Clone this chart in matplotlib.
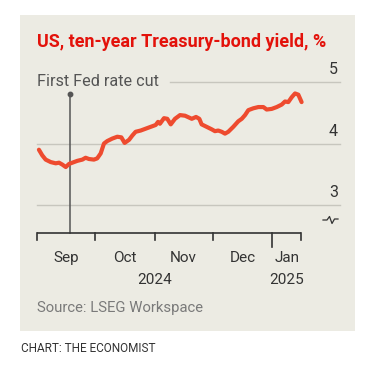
import matplotlib
matplotlib.use("Agg")
import matplotlib.pyplot as plt
import matplotlib.dates as mdates
import matplotlib.transforms as mtransforms
from matplotlib.lines import Line2D
import datetime as dt

plt.rcParams['font.family'] = ['Roboto', 'DejaVu Sans']

# ---- data ----
start = dt.date(2024, 9, 1)
day_offsets = [1.0, 2.7, 4.5, 7.1, 9.7, 11.4, 13.1, 14.9, 16.6, 18.3, 20.9,
               23.5, 25.2, 26.9, 29.5, 31.2, 33.0, 34.7, 36.4, 39.0, 41.6,
               43.7, 45.4, 47.7, 49.4, 51.1, 53.7, 56.3, 58.9, 61.5, 62.7,
               63.7, 65.8, 67.5, 69.3, 71.5, 74.1, 76.7, 80.2, 82.4, 84.1,
               85.3, 87.9, 90.5, 92.2, 93.9, 95.7, 97.4, 99.1, 101.7, 104.3,
               106.1, 107.8, 109.5, 112.1, 114.7, 117.3, 119.0, 121.6, 124.2,
               126.8, 128.5, 130.2, 132.0, 133.7, 135.4, 137.1]
yields = [3.90, 3.81, 3.74, 3.70, 3.68, 3.69, 3.66, 3.62, 3.67, 3.69, 3.72,
          3.74, 3.77, 3.75, 3.74, 3.76, 3.84, 4.00, 4.04, 4.08, 4.11,
          4.10, 4.01, 4.06, 4.13, 4.19, 4.21, 4.24, 4.27, 4.30, 4.35,
          4.32, 4.41, 4.40, 4.31, 4.40, 4.46, 4.45, 4.40, 4.43, 4.40,
          4.31, 4.27, 4.23, 4.20, 4.21, 4.19, 4.16, 4.19, 4.27, 4.36,
          4.40, 4.46, 4.54, 4.57, 4.59, 4.59, 4.55, 4.56, 4.59,
          4.63, 4.68, 4.67, 4.75, 4.81, 4.79, 4.67]
dates = [mdates.date2num(start) + d for d in day_offsets]

month_starts = [dt.date(2024, 9, 1), dt.date(2024, 10, 1), dt.date(2024, 11, 1),
                dt.date(2024, 12, 1), dt.date(2025, 1, 1)]
month_labels = ["Sep", "Oct", "Nov", "Dec", "Jan"]
axis_end = dt.date(2025, 1, 16)
year_labels = ["2024", "2025"]
y_ticks = [3, 4, 5]
fed_cut_date = dt.date(2024, 9, 18)
fed_cut_label = "First Fed rate cut"
title = "US, ten-year Treasury-bond yield, %"
source = "Source: LSEG Workspace"
credit = "CHART: THE ECONOMIST"

# ---- styling ----
W, H = 380, 365
BG = "#ecebe3"
LINE = "#ee4b2f"
RED = "#e3120b"
GRID = "#c7c6be"
DARK = "#333333"

fig = plt.figure(figsize=(W / 100, H / 100), dpi=100)
fig.patch.set_facecolor("white")

def fx(px):
    return px / W

def fy(py):
    return 1 - py / H

# panel background
panel = plt.Rectangle((fx(20), fy(331)), fx(355) - fx(20), fy(15) - fy(331),
                      transform=fig.transFigure, facecolor=BG, edgecolor="none",
                      zorder=-5)
fig.patches.append(panel)

ax = fig.add_axes([fx(37), fy(233), fx(340) - fx(37), fy(81.7) - fy(233)])
ax.set_zorder(2)
ax.set_facecolor("none")
ax.patch.set_alpha(0)
for s in ax.spines.values():
    s.set_visible(False)

x0 = mdates.date2num(start)
x_right = x0 + (340 - 37) / 1.93
ymin = 2.553
ax.set_xlim(x0, x_right)
ax.set_ylim(ymin, 5.0)
ax.set_xticks([])
ax.set_yticks([])

# gridlines
frac5 = (170 - 37) / (340 - 37)
for v in y_ticks:
    xmin = frac5 if v == 5 else 0
    ax.axhline(v, xmin=xmin, xmax=1, color=GRID, lw=1.0, zorder=1, clip_on=False)
    ax.text(1.0 - 2 / (340 - 37), v + 0.08, str(v), transform=ax.get_yaxis_transform(),
            ha="right", va="bottom", fontsize=11.5, color=DARK)

# x axis line and ticks
xe = mdates.date2num(axis_end)
ax.plot([x0, xe], [ymin, ymin], color=DARK, lw=1.2, clip_on=False, zorder=3,
        solid_capstyle="butt")
tick_dates = month_starts + [axis_end]
for d in tick_dates:
    xn = mdates.date2num(d)
    length = 14 if d == dt.date(2025, 1, 1) else 7
    ax.plot([xn, xn], [0, -length / (233 - 81.7)], transform=ax.get_xaxis_transform(),
            color=DARK, lw=1.2, clip_on=False, zorder=3)

blend = mtransforms.blended_transform_factory(ax.transData, fig.transFigure)
bounds = month_starts + [axis_end]
for i, lab in enumerate(month_labels):
    mid = (mdates.date2num(bounds[i]) + mdates.date2num(bounds[i + 1])) / 2
    ax.text(mid, fy(258), lab, transform=blend, ha="center", va="center",
            fontsize=11, color=DARK)
mid24 = (mdates.date2num(month_starts[0]) + mdates.date2num(month_starts[4])) / 2
mid25 = (mdates.date2num(month_starts[4]) + xe) / 2
ax.text(mid24, fy(280), year_labels[0], transform=blend, ha="center", va="center",
        fontsize=11, color=DARK)
ax.text(mid25, fy(280), year_labels[1], transform=blend, ha="center", va="center",
        fontsize=11, color=DARK)

# Fed cut marker
xf = mdates.date2num(fed_cut_date)
top_v = 4 - (94 - 143.3) / 62
ax.plot([xf, xf], [ymin, top_v], color="#555555", lw=1.1, zorder=2, clip_on=False)
ax.plot([xf], [top_v], marker="o", ms=3.2, color="#555555", zorder=2, clip_on=False)
fig.text(fx(37), fy(81), fed_cut_label, ha="left", va="center", fontsize=11.7,
         color="#555555")

# data line
ax.plot(dates, yields, color=LINE, lw=3.0, zorder=4,
        solid_joinstyle="round", solid_capstyle="round", clip_on=False)

# axis break symbol
bx = [323, 327, 329.5, 332, 334.5, 338]
by = [220, 220, 216.5, 223.5, 219, 219]
fig.add_artist(Line2D([fx(p) for p in bx], [fy(p) for p in by],
                      transform=fig.transFigure, color=DARK, lw=0.9))

# titles
fig.text(fx(37), fy(42), title, ha="left", va="center", fontsize=13,
         fontweight="bold", color=RED)
fig.text(fx(37), fy(308), source, ha="left", va="center", fontsize=10.7,
         color="#7a7a7a")
fig.text(fx(21), fy(348), credit, ha="left", va="center", fontsize=8.5,
         color=DARK)

fig.savefig("out.png", dpi=100, facecolor="white")
